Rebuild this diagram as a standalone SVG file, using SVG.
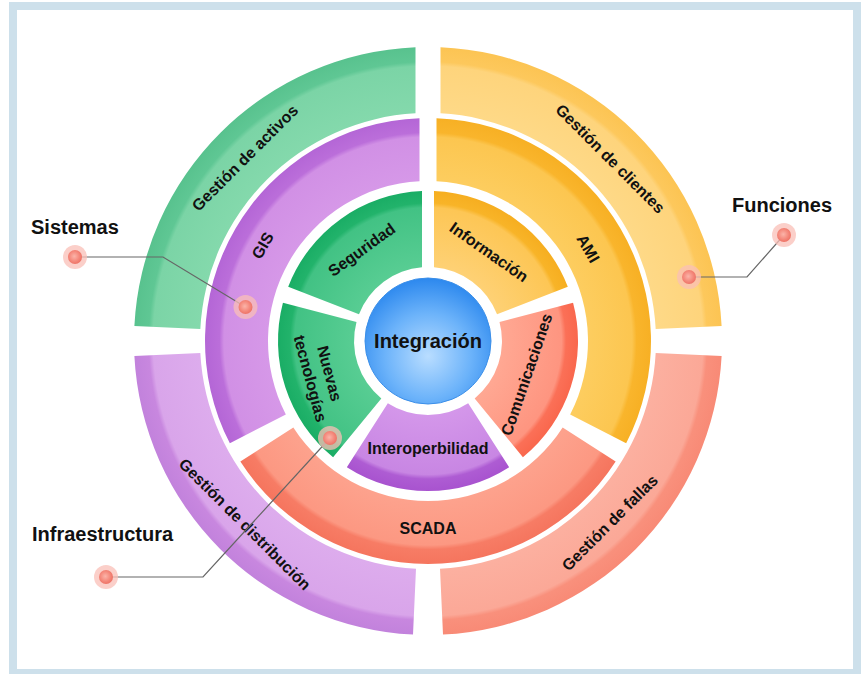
<svg xmlns="http://www.w3.org/2000/svg" width="862" height="674" viewBox="0 0 862 674">
<style>
.lbl{font-family:"Liberation Sans",Arial,sans-serif;font-weight:bold;font-size:16px;fill:#111;text-anchor:middle}
.big{font-family:"Liberation Sans",Arial,sans-serif;font-weight:bold;font-size:20px;fill:#111}
.conn{stroke:#666;stroke-width:1.2;fill:none}
.halo{fill:#f9bfb7;opacity:0.75}
.dot{fill:url(#dotg)}
</style>
<defs>
<radialGradient id="dotg" cx="0.45" cy="0.45" r="0.6">
<stop offset="0" stop-color="#fbb4a9"/><stop offset="0.6" stop-color="#f4887b"/><stop offset="1" stop-color="#ec6e61"/>
</radialGradient>
<radialGradient id="blue" cx="0.5" cy="0.62" r="0.62">
<stop offset="0" stop-color="#b9ddff"/><stop offset="0.55" stop-color="#6cb3fa"/><stop offset="1" stop-color="#2c88ee"/>
</radialGradient>
<!-- ring 1 -->
<radialGradient id="r1g" gradientUnits="userSpaceOnUse" cx="428" cy="341" r="294">
<stop offset="0.776" stop-color="#84d9ac"/><stop offset="0.935" stop-color="#7bd4a6"/><stop offset="0.95" stop-color="#5fc794"/><stop offset="1" stop-color="#58c28e"/>
</radialGradient>
<radialGradient id="r1y" gradientUnits="userSpaceOnUse" cx="428" cy="341" r="294">
<stop offset="0.776" stop-color="#fed987"/><stop offset="0.935" stop-color="#fed47c"/><stop offset="0.95" stop-color="#fdc85c"/><stop offset="1" stop-color="#fcc453"/>
</radialGradient>
<radialGradient id="r1s" gradientUnits="userSpaceOnUse" cx="428" cy="341" r="294">
<stop offset="0.776" stop-color="#fcb0a0"/><stop offset="0.935" stop-color="#fba897"/><stop offset="0.95" stop-color="#f9907c"/><stop offset="1" stop-color="#f88a76"/>
</radialGradient>
<radialGradient id="r1p" gradientUnits="userSpaceOnUse" cx="428" cy="341" r="294">
<stop offset="0.776" stop-color="#ddaced"/><stop offset="0.935" stop-color="#d9a5ea"/><stop offset="0.95" stop-color="#c887df"/><stop offset="1" stop-color="#c282dc"/>
</radialGradient>
<!-- ring 2 -->
<radialGradient id="r2p" gradientUnits="userSpaceOnUse" cx="428" cy="341" r="223">
<stop offset="0.717" stop-color="#d698e8"/><stop offset="0.915" stop-color="#d190e5"/><stop offset="0.935" stop-color="#bb6eda"/><stop offset="1" stop-color="#b466d6"/>
</radialGradient>
<radialGradient id="r2y" gradientUnits="userSpaceOnUse" cx="428" cy="341" r="223">
<stop offset="0.717" stop-color="#fdcd5f"/><stop offset="0.915" stop-color="#fcc650"/><stop offset="0.935" stop-color="#f9b52c"/><stop offset="1" stop-color="#f7b024"/>
</radialGradient>
<radialGradient id="r2s" gradientUnits="userSpaceOnUse" cx="428" cy="341" r="223">
<stop offset="0.717" stop-color="#fda28d"/><stop offset="0.915" stop-color="#fc9882"/><stop offset="0.935" stop-color="#f77c65"/><stop offset="1" stop-color="#f5755e"/>
</radialGradient>
<!-- ring 3 -->
<radialGradient id="r3g" gradientUnits="userSpaceOnUse" cx="428" cy="341" r="150">
<stop offset="0.49" stop-color="#58cd93"/><stop offset="0.89" stop-color="#42c284"/><stop offset="0.92" stop-color="#22b36b"/><stop offset="1" stop-color="#1aad65"/>
</radialGradient>
<radialGradient id="r3y" gradientUnits="userSpaceOnUse" cx="428" cy="341" r="150">
<stop offset="0.49" stop-color="#fed175"/><stop offset="0.89" stop-color="#fdc655"/><stop offset="0.92" stop-color="#f8b428"/><stop offset="1" stop-color="#f6ae20"/>
</radialGradient>
<radialGradient id="r3s" gradientUnits="userSpaceOnUse" cx="428" cy="341" r="150">
<stop offset="0.49" stop-color="#ffa893"/><stop offset="0.89" stop-color="#fe9580"/><stop offset="0.92" stop-color="#fb7057"/><stop offset="1" stop-color="#f9674d"/>
</radialGradient>
<radialGradient id="r3p" gradientUnits="userSpaceOnUse" cx="428" cy="341" r="150">
<stop offset="0.49" stop-color="#d497ea"/><stop offset="0.89" stop-color="#c886e3"/><stop offset="0.92" stop-color="#ae5cd3"/><stop offset="1" stop-color="#a853cf"/>
</radialGradient>
</defs>

<rect x="0" y="0" width="862" height="674" fill="#fff"/>
<rect x="13" y="6" width="844" height="667" fill="none" stroke="#cde0eb" stroke-width="8"/>

<!-- Ring 1 -->
<g id="gestion-activos">
<path d="M134.38,326 A294,294 0 0 1 415.5,47.27 L415.5,113.34 A228,228 0 0 0 200.32,329 Z" fill="url(#r1g)"/>
<text class="lbl" transform="translate(244.9,157.9) rotate(-45)" dy="0.35em">Gestión de activos</text>
</g>
<g id="gestion-clientes">
<path d="M440.5,47.27 A294,294 0 0 1 721.62,326 L655.68,329 A228,228 0 0 0 440.5,113.34 Z" fill="url(#r1y)"/>
<text class="lbl" transform="translate(610.4,158.6) rotate(45)" dy="0.35em">Gestión de clientes</text>
</g>
<g id="gestion-fallas">
<path d="M721.62,356 A294,294 0 0 1 443,634.62 L440,568.68 A228,228 0 0 0 655.68,353 Z" fill="url(#r1s)"/>
<text class="lbl" transform="translate(609.7,522.7) rotate(-45)" dy="0.35em">Gestión de fallas</text>
</g>
<g id="gestion-distribucion">
<path d="M413,634.62 A294,294 0 0 1 134.38,356 L200.32,353 A228,228 0 0 0 416,568.68 Z" fill="url(#r1p)"/>
<text class="lbl" transform="translate(244.9,524.1) rotate(45)" dy="0.35em">Gestión de distribución</text>
</g>

<!-- Ring 2 -->
<g id="gis">
<path d="M229.85,443.28 A223,223 0 0 1 419.5,118.16 L419.5,181.23 A160,160 0 0 0 285.84,414.42 Z" fill="url(#r2p)"/>
<text class="lbl" transform="translate(262.6,245.5) rotate(-60)" dy="0.35em">GIS</text>
</g>
<g id="ami">
<path d="M436.5,118.16 A223,223 0 0 1 626.15,443.28 L570.16,414.42 A160,160 0 0 0 436.5,181.23 Z" fill="url(#r2y)"/>
<text class="lbl" transform="translate(588.2,248.5) rotate(60)" dy="0.35em">AMI</text>
</g>
<g id="scada">
<path d="M615.65,461.47 A223,223 0 0 1 240.35,461.47 L293.34,427.41 A160,160 0 0 0 562.66,427.41 Z" fill="url(#r2s)"/>
<text class="lbl" x="428" y="528" dy="0.35em">SCADA</text>
</g>

<!-- Ring 3 -->
<g id="seguridad">
<path d="M288.2,286.64 A150,150 0 0 1 422,191.12 L422,267.24 A74,74 0 0 0 358.97,314.36 Z" fill="url(#r3g)"/>
<text class="lbl" transform="translate(361.6,249.6) rotate(-36)" dy="0.35em">Seguridad</text>
</g>
<g id="informacion">
<path d="M434,191.12 A150,150 0 0 1 567.8,286.64 L497.04,314.36 A74,74 0 0 0 434,267.24 Z" fill="url(#r3y)"/>
<text class="lbl" transform="translate(489,252) rotate(35)" dy="0.35em">Información</text>
</g>
<g id="comunicaciones">
<path d="M573.06,302.8 A150,150 0 0 1 522.91,457.16 L474.67,398.43 A74,74 0 0 0 499.51,321.97 Z" fill="url(#r3s)"/>
<text class="lbl" transform="translate(526.5,374.5) rotate(-71)" dy="0.35em">Comunicaciones</text>
</g>
<g id="interoperbilidad">
<path d="M509.15,467.16 A150,150 0 0 1 346.85,467.16 L387.81,403.13 A74,74 0 0 0 468.19,403.13 Z" fill="url(#r3p)"/>
<text class="lbl" x="428" y="448.5" dy="0.35em">Interoperbilidad</text>
</g>
<g id="nuevas-tecnologias">
<path d="M333.09,457.16 A150,150 0 0 1 282.94,302.8 L356.49,321.97 A74,74 0 0 0 381.33,398.43 Z" fill="url(#r3g)"/>
<text class="lbl" transform="translate(320,376) rotate(75)"><tspan x="0" y="-10" dy="0.35em">Nuevas</tspan><tspan x="0" y="10" dy="0.35em">tecnologías</tspan></text>
</g>

<!-- Center -->
<g id="integracion">
<circle cx="428" cy="341" r="63" fill="url(#blue)" stroke="#3b8fe9" stroke-width="1"/>
<text class="big" x="428" y="341" dy="0.35em" text-anchor="middle">Integración</text>
</g>

<!-- Connectors -->
<g id="connectors">
<polyline class="conn" points="75,257 163,257 245.5,307"/>
<polyline class="conn" points="784,235 747,277 689,277"/>
<polyline class="conn" points="106,577 203,577 330,438"/>
</g>

<!-- Callouts -->
<g id="sistemas">
<text class="big" x="31" y="234">Sistemas</text>
<circle class="halo" cx="75" cy="257" r="12"/><circle class="dot" cx="75" cy="257" r="7"/>
<circle class="halo" cx="245.5" cy="307" r="12"/><circle class="dot" cx="245.5" cy="307" r="7"/>
</g>
<g id="funciones">
<text class="big" x="732" y="212">Funciones</text>
<circle class="halo" cx="784" cy="235" r="12"/><circle class="dot" cx="784" cy="235" r="7"/>
<circle class="halo" cx="689" cy="277" r="12"/><circle class="dot" cx="689" cy="277" r="7"/>
</g>
<g id="infraestructura">
<text class="big" x="32" y="541">Infraestructura</text>
<circle class="halo" cx="106" cy="577" r="12"/><circle class="dot" cx="106" cy="577" r="7"/>
<circle class="halo" cx="330" cy="438" r="12"/><circle class="dot" cx="330" cy="438" r="7"/>
</g>
</svg>
